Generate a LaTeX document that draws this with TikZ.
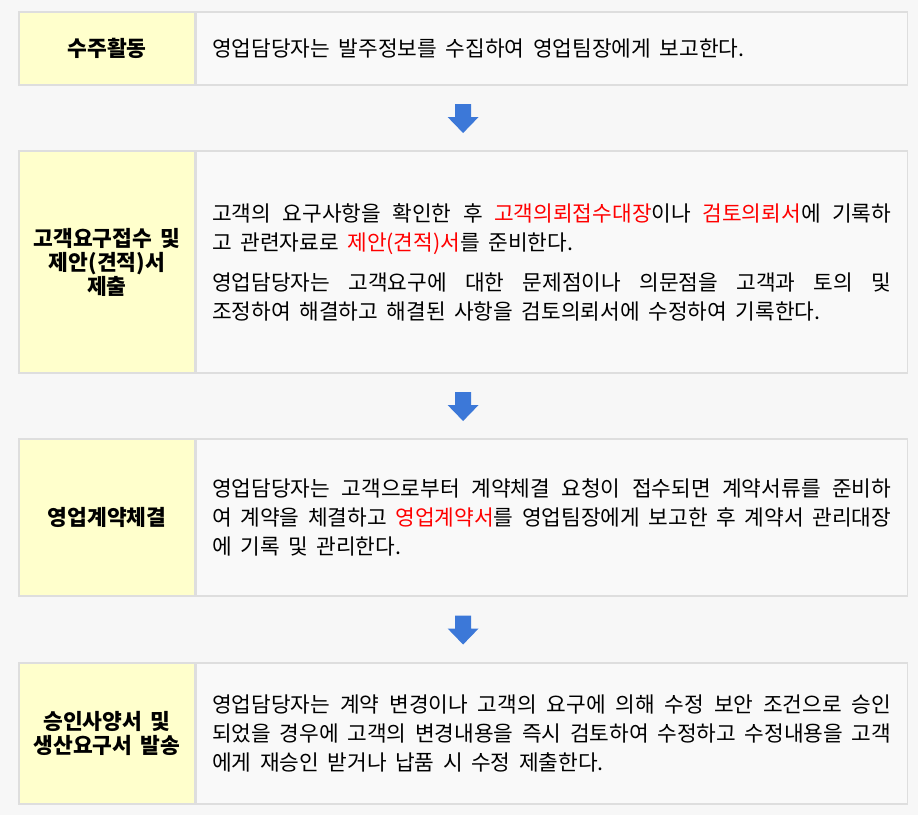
\documentclass[tikz,border=0pt]{standalone}
\usepackage{fontspec}
\setmainfont{Noto Sans CJK KR}
\usetikzlibrary{calc}
\definecolor{pagegray}{HTML}{F7F7F7}
\definecolor{boxgray}{HTML}{F9F9F9}
\definecolor{stageyellow}{HTML}{FFFFCC}
\definecolor{edgegray}{HTML}{DEDEDE}
\definecolor{arrowblue}{HTML}{3C78D8}
\newcommand\widespace{\spaceskip=8.5pt plus 30pt minus 3pt\relax}
\begin{document}
\begin{tikzpicture}[x=1pt, y=-1pt,
    stage/.style={draw=edgegray, line width=1.2pt, fill=stageyellow, minimum width=176pt,
      inner sep=0pt, align=center, font={\fontsize{21.5}{24}\selectfont\bfseries\widespace}},
    detail/.style={draw=edgegray, line width=1.2pt, fill=boxgray, anchor=west,
      text width=679pt, inner xsep=16pt, inner ysep=0pt, align=justify,
      font={\fontsize{21.4}{29}\selectfont\widespace}}]
    \fill[pagegray] (0,0) rectangle (918,815);
    \useasboundingbox (0,0) rectangle (918,815);

    % row 1
    \node[stage, minimum height=73pt] (lab1) at (107,48.5) {수주활동};
    \node[detail, minimum height=73pt] (txt1) at (lab1.east)
      {영업담당자는 발주정보를 수집하여 영업팀장에게 보고한다.};

    % row 2
    \node[stage, minimum height=222pt] (lab2) at (107,262)
      {고객요구접수 및\\제안(견적)서\\제출};
    \node[detail, minimum height=222pt] (txt2) at (lab2.east)
      {고객의 요구사항을 확인한 후 \textcolor{red}{고객의뢰접수대장}이나
       \textcolor{red}{검토의뢰서}에 기록하\linebreak 고 관련자료로
       \textcolor{red}{제안(견적)서}를 준비한다.\par\vspace{11pt}
       영업담당자는 고객요구에 대한 문제점이나 의문점을 고객과 토의 및\linebreak
       조정하여 해결하고 해결된 사항을 검토의뢰서에 수정하여 기록한다.};

    % row 3
    \node[stage, minimum height=157pt] (lab3) at (107,517.5) {영업계약체결};
    \node[detail, minimum height=157pt] (txt3) at (lab3.east)
      {영업담당자는 고객으로부터 계약체결 요청이 접수되면 계약서류를 준비하\linebreak 여
       계약을 체결하고 \textcolor{red}{영업계약서}를 영업팀장에게 보고한 후 계약서
       관리대장\linebreak 에 기록 및 관리한다.};

    % row 4
    \node[stage, minimum height=141pt] (lab4) at (107,733.5)
      {승인사양서 및\\생산요구서 발송};
    \node[detail, minimum height=141pt] (txt4) at (lab4.east)
      {영업담당자는 계약 변경이나 고객의 요구에 의해 수정 보안 조건으로
       승인\linebreak 되었을 경우에 고객의 변경내용을 즉시 검토하여 수정하고
       수정내용을 고객\linebreak 에게 재승인 받거나 납품 시 수정 제출한다.};

    % arrows between rows
    \foreach \i/\j in {1/2,2/3,3/4}
    {
      \fill[arrowblue] ($(lab\i.south west)!0.5!(txt\j.north east)$)
        ++(-8,-14) -- ++(16,0) -- ++(0,13) -- ++(7.5,0) -- ++(-15.5,16)
        -- ++(-15.5,-16) -- ++(7.5,0) -- cycle;
    }
\end{tikzpicture}
\end{document}
